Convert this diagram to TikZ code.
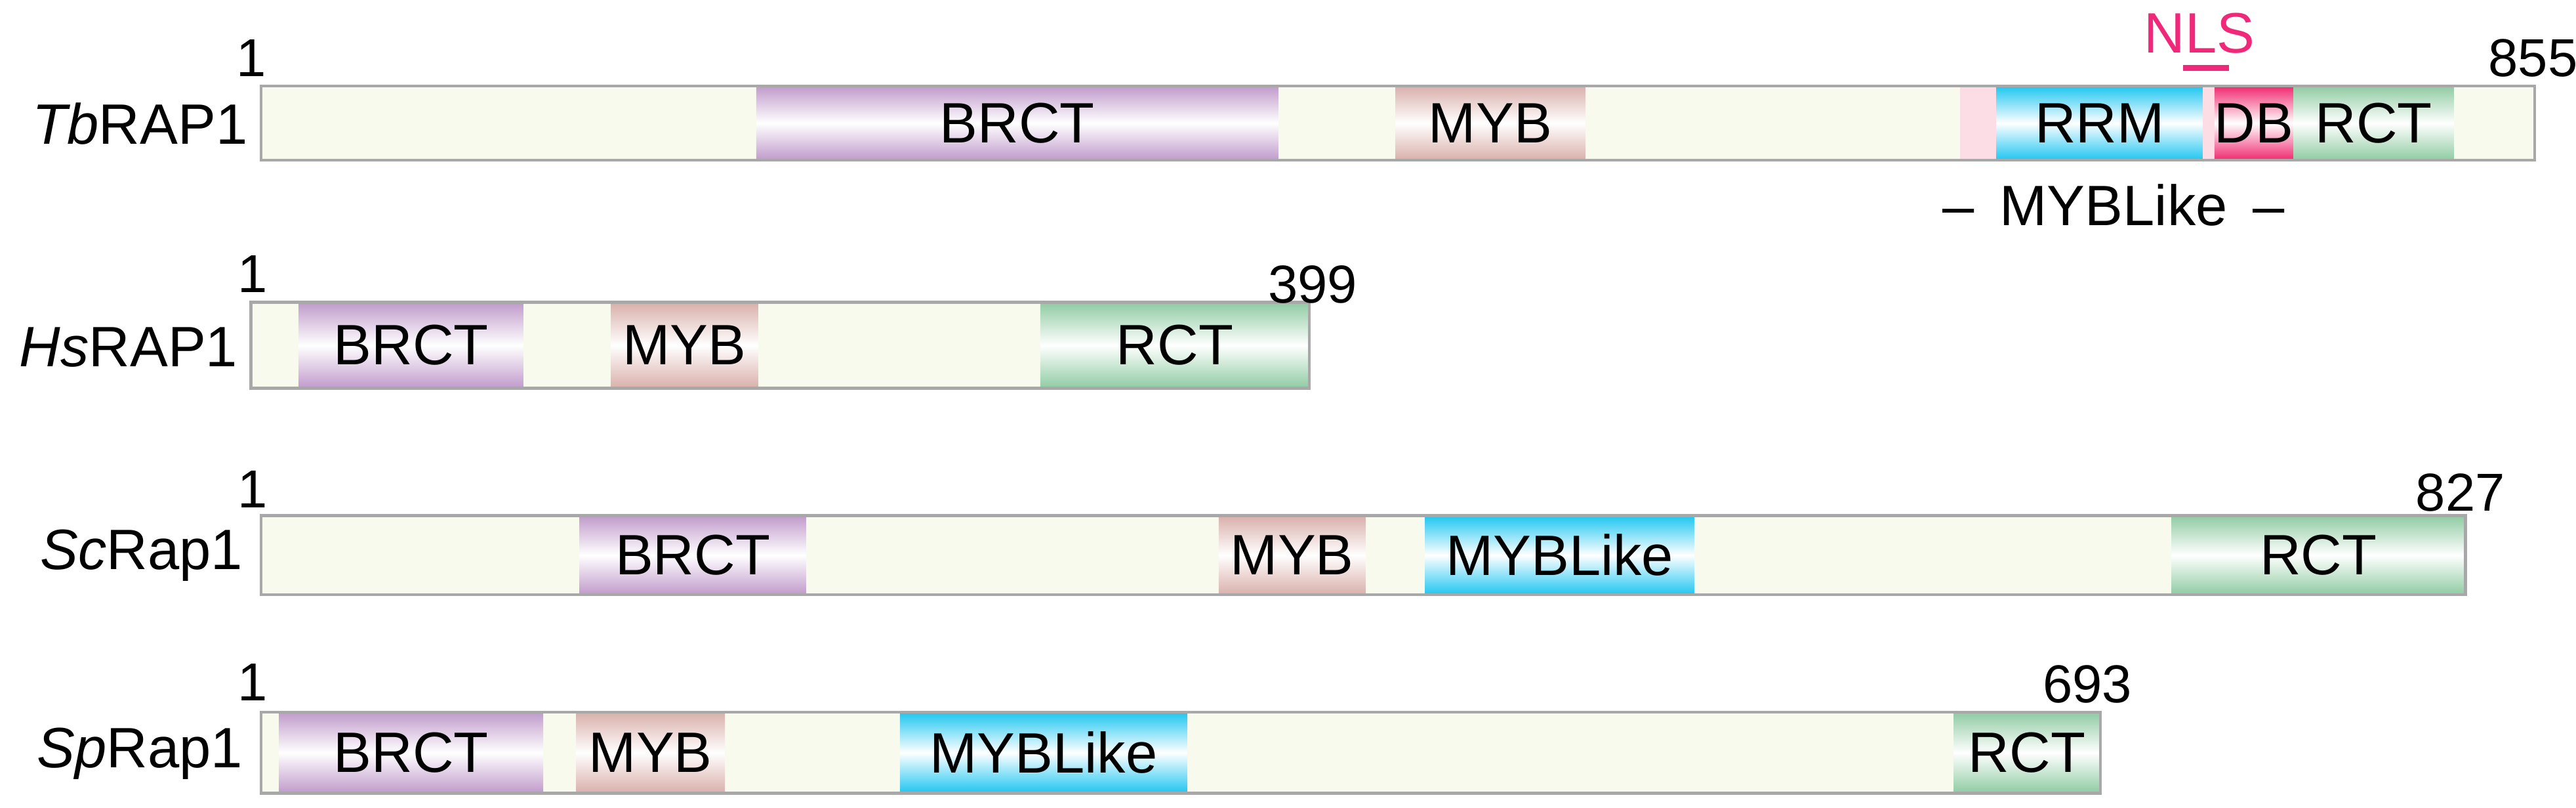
\documentclass[tikz,border=0pt]{standalone}
\usepackage{fontspec}
\setmainfont{Liberation Sans}
\definecolor{cream}{HTML}{F8FAEE}
\definecolor{barline}{HTML}{A8A8A8}
\definecolor{cbrct}{HTML}{C09ACB}
\definecolor{cmyb}{HTML}{D9AFAA}
\definecolor{crrm}{HTML}{1EC6F0}
\definecolor{cdb}{HTML}{F0286E}
\definecolor{crct}{HTML}{8FCBA2}
\definecolor{cfaint}{HTML}{FCDDE5}
\definecolor{cnls}{HTML}{F0287A}
\tikzset{
 lbl/.style={font=\fontsize{49}{58}\selectfont, inner sep=0pt},
 num/.style={font=\fontsize{46}{54}\selectfont, inner sep=0pt},
}
\newcommand{\dom}[6]{\shade[top color=#5, bottom color=#5, middle color=white, shading angle=0] (#1,#3) rectangle (#2,#4);
 \node[lbl] at ({(#1+#2)/2},{(#3+#4)/2}) {#6};}
\newcommand{\protbar}[5]{\draw[barline, line width=2.5pt, fill=cream] (#1,#3) rectangle (#2,#4);}
\begin{document}
\begin{tikzpicture}[x=0.05cm,y=-0.05cm]
\useasboundingbox (0,0) rectangle (1560,489);
% Tb
\protbar{158}{1535}{52}{97}{}
\dom{458}{774}{52}{97}{cbrct}{BRCT}
\dom{845}{960}{52}{97}{cmyb}{MYB}
\fill[cfaint] (1187,52) rectangle (1209,97);
\dom{1209}{1334}{52}{97}{crrm}{RRM}
\fill[cfaint] (1334,52) rectangle (1341,97);
\dom{1341}{1389}{52}{97}{cdb}{DB}
\dom{1389}{1486}{52}{97}{crct}{RCT}
\draw[barline, line width=2.5pt] (158,52) rectangle (1535,97);
\node[lbl, anchor=east] (tb) at (150,75) {\textit{Tb}RAP1};
\node[num] (tb1) at (152,35) {1};
\node[num] (tbn) at (1534,35) {855};
\node[lbl, text=cnls] (nls) at (1332,20) {NLS};
\draw[cnls, line width=5pt] (1322,41) -- (1350,41);
\node[lbl] (ml) at (1280,124) {– \,MYBLike\, –};
% Hs
\protbar{152}{793}{183}{235}{}
\dom{181}{317}{183}{235}{cbrct}{BRCT}
\dom{370}{459}{183}{235}{cmyb}{MYB}
\dom{630}{793}{183}{235}{crct}{RCT}
\draw[barline, line width=2.5pt] (152,183) rectangle (793,235);
\node[lbl, anchor=east] (hs) at (144,210) {\textit{Hs}RAP1};
\node[num] (hs1) at (153,166) {1};
\node[num] (hsn) at (795,172) {399};
% Sc
\protbar{158}{1493}{312}{360}{}
\dom{351}{488}{312}{360}{cbrct}{BRCT}
\dom{738}{827}{312}{360}{cmyb}{MYB}
\dom{863}{1026}{312}{360}{crrm}{MYBLike}
\dom{1315}{1493}{312}{360}{crct}{RCT}
\draw[barline, line width=2.5pt] (158,312) rectangle (1493,360);
\node[lbl, anchor=east] (sc) at (147,336) {\textit{Sc}Rap1};
\node[num] (sc1) at (153,296) {1};
\node[num] (scn) at (1490,298) {827};
% Sp
\protbar{158}{1272}{431}{480}{}
\dom{169}{329}{431}{480}{cbrct}{BRCT}
\dom{349}{439}{431}{480}{cmyb}{MYB}
\dom{545}{719}{431}{480}{crrm}{MYBLike}
\dom{1183}{1272}{431}{480}{crct}{RCT}
\draw[barline, line width=2.5pt] (158,431) rectangle (1272,480);
\node[lbl, anchor=east] (sp) at (147,456) {\textit{Sp}Rap1};
\node[num] (sp1) at (153,413) {1};
\node[num] (spn) at (1264,414) {693};
\end{tikzpicture}
\end{document}
